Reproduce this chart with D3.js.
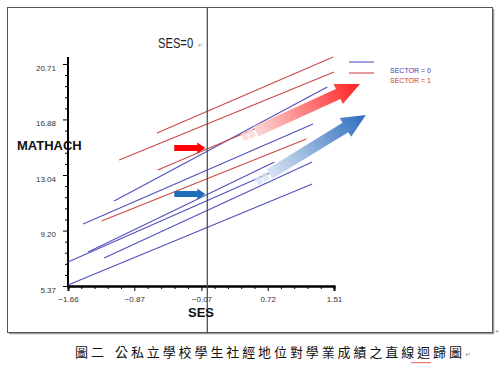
<!DOCTYPE html>
<html>
<head>
<meta charset="utf-8">
<script src="https://cdn.jsdelivr.net/npm/d3@7"></script>
<style>
  body { margin: 0; background: #fff; }
  svg { display: block; }
  .tick text { font-family: "Liberation Sans", Arial, sans-serif; font-size: 8px; fill: #333; }
</style>
</head>
<body>
<svg id="chart" width="500" height="365"></svg>
<script>
// tick labels
let xTicks = [-1.66, -0.87, -0.07, 0.72, 1.51];
let yTicks = [5.37, 9.20, 13.04, 16.88, 20.71];

// SECTOR = 0 (public) school regression lines: SES range and fitted MATHACH at both ends
let sector0SesFrom = [-1.11, -1.48, -1.66, -1.42, -1.23, -1.66];
let sector0SesTo   = [1.43, 1.26, 0.96, 0.80, 1.25, 1.25];
let sector0MathFrom = [11.24, 9.65, 7.03, 7.72, 7.30, 5.44];
let sector0MathTo   = [19.12, 16.56, 13.73, 13.94, 13.94, 12.42];

// SECTOR = 1 (private) school regression lines
let sector1SesFrom = [-0.60, -1.05, -0.59, -1.26];
let sector1SesTo   = [1.50, 1.51, 1.37, 1.18];
let sector1MathFrom = [15.94, 14.08, 13.39, 9.86];
let sector1MathTo   = [21.19, 20.16, 18.22, 15.53];

let legendLabels = ["SECTOR = 0", "SECTOR = 1"];
let colours = ["#5050c0", "#cc4848"];
let textColours = ["#3c3ca8", "#c83c3c"];

let svg = d3.select("#chart");

let x = d3.scaleLinear().domain([-1.66, 1.51]).range([68, 334]);
let y = d3.scaleLinear().domain([5.37, 20.71]).range([286, 64]);

// outer frame with a little shadow on the right / bottom
svg.append("line").attr("x1", 493.5).attr("y1", 9).attr("x2", 493.5).attr("y2", 334)
    .style("stroke", "#999").style("stroke-width", 1.5);
svg.append("line").attr("x1", 9).attr("y1", 333.5).attr("x2", 494).attr("y2", 333.5)
    .style("stroke", "#999").style("stroke-width", 1.5);
svg.append("rect").attr("x", 7.5).attr("y", 7.5).attr("width", 485).attr("height", 325)
    .style("fill", "none").style("stroke", "#555");
svg.append("text").attr("x", 495).attr("y", 334)
    .style("font-family", "Liberation Sans, Arial").style("font-size", "7px").style("fill", "#777")
    .text("+");

// minor tick values: 5 intervals between labelled ticks
function minorTicks(ticks) {
    let res = [];
    for (let i = 0; i < ticks.length - 1; i++) {
        let step = (ticks[i + 1] - ticks[i]) / 5;
        for (let k = 1; k < 5; k++) res.push(ticks[i] + k * step);
    }
    return res;
}

// x axis
let gx = svg.append("g").attr("transform", "translate(0,286)");
gx.call(d3.axisBottom(x).tickValues(minorTicks(xTicks)).tickSize(3).tickFormat(""));
gx.append("g").call(d3.axisBottom(x).tickValues(xTicks).tickSize(5).tickPadding(5)
    .tickFormat(d3.format(".2f")));
gx.selectAll("path.domain").style("stroke", "#000").style("stroke-width", 2);
gx.selectAll(".tick line").style("stroke", "#000");

// y axis, the line runs a bit above the top label
let gy = svg.append("g").attr("transform", "translate(68,0)");
gy.call(d3.axisLeft(y).tickValues(minorTicks(yTicks)).tickSize(3).tickFormat(""));
gy.append("g").call(d3.axisLeft(y).tickValues(yTicks).tickSize(5).tickPadding(7)
    .tickFormat(d3.format(".2f")));
gy.selectAll("path.domain").remove();
gy.selectAll(".tick text").attr("dy", "0.75em");
gy.append("line").attr("x1", 0).attr("x2", 0).attr("y1", y(21.2)).attr("y2", y(5.37) + 1)
    .style("stroke", "#000").style("stroke-width", 2);
gy.selectAll(".tick line").style("stroke", "#000");

// regression lines
function drawLines(from, to, mFrom, mTo, colour) {
    for (let i = 0; i < from.length; i++) {
        svg.append("line")
            .attr("x1", x(from[i])).attr("y1", y(mFrom[i]))
            .attr("x2", x(to[i])).attr("y2", y(mTo[i]))
            .style("stroke", colour).style("stroke-width", 1.1);
    }
}
drawLines(sector0SesFrom, sector0SesTo, sector0MathFrom, sector0MathTo, colours[0]);
drawLines(sector1SesFrom, sector1SesTo, sector1MathFrom, sector1MathTo, colours[1]);

// SES = 0 reference line, label squeezed a little like the original font
svg.append("line").attr("x1", x(0)).attr("x2", x(0)).attr("y1", 8).attr("y2", 333)
    .style("stroke", "#444").style("stroke-width", 1.2);
svg.append("text").attr("transform", "translate(158,48) scale(0.8,1)")
    .style("font-family", "Liberation Sans, Arial").style("font-size", "14px").style("fill", "#222")
    .text("SES=0");
svg.append("text").attr("x", 198).attr("y", 47)
    .style("font-family", "Liberation Sans, Arial").style("font-size", "6px").style("fill", "#999")
    .text("↵");

// gradient arrows
let defs = svg.append("defs");
function bigArrow(id, p0, p1, c0, c1, shaftW, headW, headL) {
    let dx = p1[0] - p0[0], dy = p1[1] - p0[1];
    let len = Math.sqrt(dx * dx + dy * dy);
    let ux = dx / len, uy = dy / len, nx = -uy, ny = ux;
    let grad = defs.append("linearGradient").attr("id", id)
        .attr("gradientUnits", "userSpaceOnUse")
        .attr("x1", p0[0]).attr("y1", p0[1]).attr("x2", p1[0]).attr("y2", p1[1]);
    grad.append("stop").attr("offset", "0").attr("stop-color", c0);
    grad.append("stop").attr("offset", "1").attr("stop-color", c1);
    let hb = [p1[0] - ux * headL, p1[1] - uy * headL];
    let pts = [
        [p0[0] + nx * shaftW / 2, p0[1] + ny * shaftW / 2],
        [hb[0] + nx * shaftW / 2, hb[1] + ny * shaftW / 2],
        [hb[0] + nx * headW / 2, hb[1] + ny * headW / 2],
        p1,
        [hb[0] - nx * headW / 2, hb[1] - ny * headW / 2],
        [hb[0] - nx * shaftW / 2, hb[1] - ny * shaftW / 2],
        [p0[0] - nx * shaftW / 2, p0[1] - ny * shaftW / 2]
    ];
    svg.append("polygon").attr("points", pts.map(p => p.join(",")).join(" "))
        .style("fill", "url(#" + id + ")");
    // faint squares behind the tail
    for (let k = 1; k <= 2; k++) {
        let cx = p0[0] - ux * (k * 7 - 2), cy = p0[1] - uy * (k * 7 - 2);
        svg.append("rect").attr("x", cx - 3).attr("y", cy - 4).attr("width", 6).attr("height", 8)
            .attr("transform", "rotate(" + (Math.atan2(dy, dx) * 180 / Math.PI) + "," + cx + "," + cy + ")")
            .style("fill", c0).style("opacity", 0.8);
    }
}
bigArrow("gRed", [x(0.58), y(16.05)], [x(1.82), y(19.33)], "#fbd6d6", "#ff2020", 11, 22, 24);
bigArrow("gBlue", [x(0.74), y(13.1)], [x(1.89), y(17.19)], "#d8e4f2", "#2d6cbd", 11, 22, 24);

// small solid arrows pointing at SES = 0
function smallArrow(yPos, colour) {
    let tip = x(0) - 2;
    let pts = [[tip - 31, yPos - 3], [tip - 8, yPos - 3], [tip - 8, yPos - 5.5], [tip, yPos],
        [tip - 8, yPos + 5.5], [tip - 8, yPos + 3], [tip - 31, yPos + 3]];
    svg.append("polygon").attr("points", pts.map(p => p.join(",")).join(" ")).style("fill", colour);
}
smallArrow(y(14.91), "#ff0000");
smallArrow(y(11.73), "#1f6fb8");

// axis titles
svg.append("text").attr("x", 17).attr("y", 150)
    .style("font-family", "Liberation Sans, Arial").style("font-weight", "bold").style("font-size", "13px")
    .style("fill", "#111").text("MATHACH");
svg.append("text").attr("x", 201).attr("y", 317).attr("text-anchor", "middle")
    .style("font-family", "Liberation Sans, Arial").style("font-weight", "bold").style("font-size", "13px")
    .style("fill", "#111").text("SES");

// legend
for (let i = 0; i < legendLabels.length; i++) {
    svg.append("line").attr("x1", 349).attr("x2", 374).attr("y1", 62 + i * 11).attr("y2", 62 + i * 11)
        .style("stroke", colours[i]).style("stroke-width", 1.1);
    svg.append("text").attr("x", 390).attr("y", 72.5 + i * 10)
        .style("font-family", "Liberation Sans, Arial").style("font-size", "7px")
        .style("fill", textColours[i]).text(legendLabels[i]);
}

// caption under the chart
let cap = svg.append("g").style("font-family", "Noto Sans CJK TC, Noto Sans CJK SC")
    .style("font-size", "13px").style("fill", "#111");
cap.append("text").attr("x", 75).attr("y", 357).style("letter-spacing", "3px").text("圖二");
cap.append("text").attr("x", 115).attr("y", 357).style("letter-spacing", "2.9px")
    .text("公私立學校學生社經地位對學業成績之直線迴歸圖")
    .append("tspan").style("font-size", "7px").style("fill", "#999").text("↵");
// spell-check squiggle under 迴歸
let wave = "M411,362";
for (let k = 0; k < 10; k++) wave += " l1,1.2 l1,-1.2";
svg.append("path").attr("d", wave).style("fill", "none").style("stroke", "#e03030").style("stroke-width", 0.7);
</script>
</body>
</html>
